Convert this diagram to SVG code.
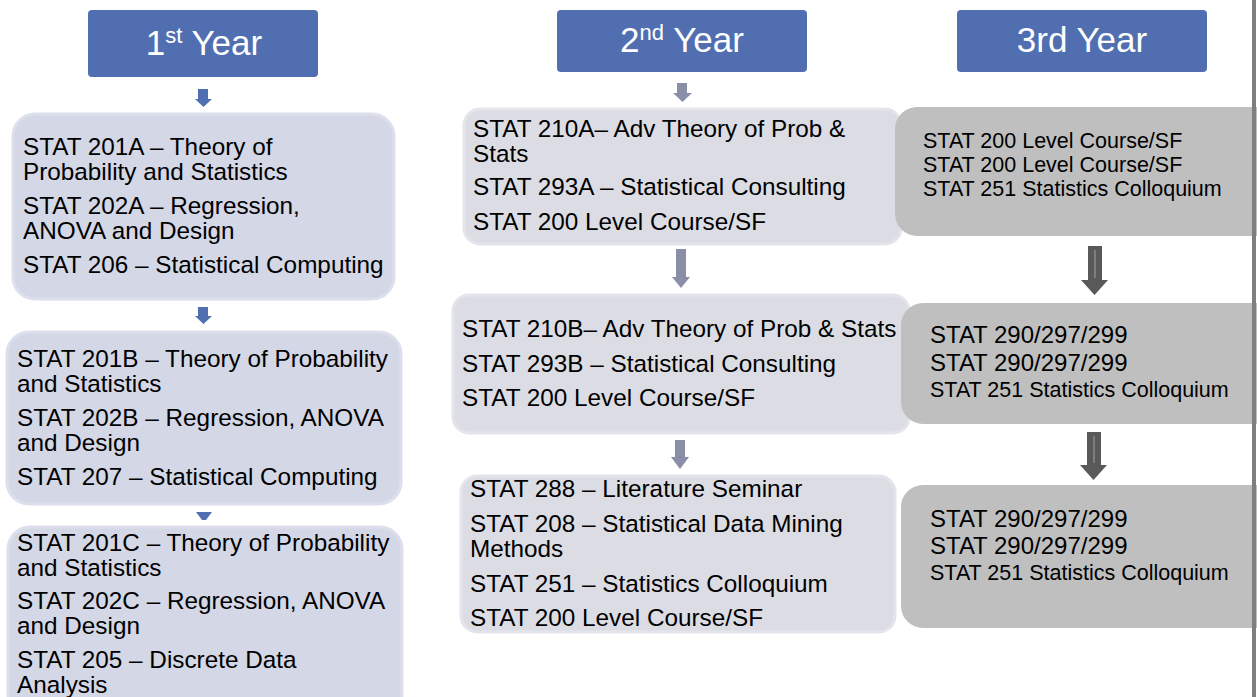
<svg xmlns="http://www.w3.org/2000/svg" width="1257" height="697" viewBox="0 0 1257 697">
<style>
text{font-family:"Liberation Sans",Arial,sans-serif;fill:#000}
.hdr{fill:#516fb0}
.ht{fill:#fff;font-size:35px;text-anchor:middle}
.b1{fill:#d4d7e6;stroke:#dde0ec;stroke-width:3}
.b2{fill:#dcdde4;stroke:#e4e5eb;stroke-width:3}
.b3{fill:#bfbfbf}
.t24{font-size:24.3px}
.t21{font-size:21.5px}
.t23{font-size:24px}
.a1{fill:#4f6fb0}
.a2{fill:#8a8ea7}
.a3{fill:#595959}
</style>
<g id="connectors">
<path class="a1" d="M198,89H208V99H212L203.5,107L195,99H198Z"/>
<path class="a1" d="M198,307H208V316H212L203.5,324L195,316H198Z"/>
<path class="a1" d="M196,512H212L206,520H202Z"/>
<path class="a2" d="M677,83H687V93H692L682.5,102L673,93H677Z"/>
<path class="a2" d="M676,249H686V277H690L681,288L672,277H676Z"/>
<path class="a2" d="M675,440H685V457H689L680,469L671,457H675Z"/>
<path class="a3" d="M1088,246H1102V280H1108L1094.5,295L1081,280H1088Z"/>
<line x1="1095" y1="250" x2="1095" y2="278" stroke="#8a8a8a" stroke-width="1.5"/>
<path class="a3" d="M1087,432H1101V465H1107L1093.5,480L1080,465H1087Z"/>
<line x1="1094" y1="436" x2="1094" y2="463" stroke="#8a8a8a" stroke-width="1.5"/>
</g>
<g id="h1">
<rect class="hdr" x="88" y="10" width="230" height="67" rx="4"/>
<text class="ht" x="204" y="55">1<tspan font-size="22" dy="-12">st</tspan><tspan dy="12"> Year</tspan></text>
</g>
<g id="h2">
<rect class="hdr" x="557" y="10" width="250" height="62" rx="4"/>
<text class="ht" x="682" y="52">2<tspan font-size="22" dy="-12">nd</tspan><tspan dy="12"> Year</tspan></text>
</g>
<g id="h3">
<rect class="hdr" x="957" y="10" width="250" height="62" rx="4"/>
<text class="ht" x="1082" y="52">3rd Year</text>
</g>
<g id="y1a">
<rect class="b1" x="13" y="114" width="381" height="185" rx="22"/>
<text class="t24" x="23" y="155">STAT 201A – Theory of</text>
<text class="t24" x="23" y="180">Probability and Statistics</text>
<text class="t24" x="23" y="214">STAT 202A – Regression,</text>
<text class="t24" x="23" y="239">ANOVA and Design</text>
<text class="t24" x="23" y="273">STAT 206 – Statistical Computing</text>
</g>
<g id="y1b">
<rect class="b1" x="7" y="332" width="394" height="172" rx="22"/>
<text class="t24" x="17" y="367">STAT 201B – Theory of Probability</text>
<text class="t24" x="17" y="392">and Statistics</text>
<text class="t24" x="17" y="426">STAT 202B – Regression, ANOVA</text>
<text class="t24" x="17" y="451">and Design</text>
<text class="t24" x="17" y="485">STAT 207 – Statistical Computing</text>
</g>
<g id="y1c">
<rect class="b1" x="8" y="527" width="394" height="190" rx="22"/>
<text class="t24" x="17" y="551">STAT 201C – Theory of Probability</text>
<text class="t24" x="17" y="576">and Statistics</text>
<text class="t24" x="17" y="609">STAT 202C – Regression, ANOVA</text>
<text class="t24" x="17" y="634">and Design</text>
<text class="t24" x="17" y="668">STAT 205 – Discrete Data</text>
<text class="t24" x="17" y="693">Analysis</text>
</g>
<g id="y2a">
<rect class="b2" x="464" y="109" width="437" height="135" rx="16"/>
<text class="t24" x="473" y="137">STAT 210A– Adv Theory of Prob &amp;</text>
<text class="t24" x="473" y="162">Stats</text>
<text class="t24" x="473" y="195">STAT 293A – Statistical Consulting</text>
<text class="t24" x="473" y="230">STAT 200 Level Course/SF</text>
</g>
<g id="y2b">
<rect class="b2" x="453" y="295" width="456" height="138" rx="16"/>
<text class="t24" x="462" y="337">STAT 210B– Adv Theory of Prob &amp; Stats</text>
<text class="t24" x="462" y="372">STAT 293B – Statistical Consulting</text>
<text class="t24" x="462" y="406">STAT 200 Level Course/SF</text>
</g>
<g id="y2c">
<rect class="b2" x="461" y="476" width="434" height="156" rx="16"/>
<text class="t24" x="470" y="497">STAT 288 – Literature Seminar</text>
<text class="t24" x="470" y="532">STAT 208 – Statistical Data Mining</text>
<text class="t24" x="470" y="557">Methods</text>
<text class="t24" x="470" y="592">STAT 251 – Statistics Colloquium</text>
<text class="t24" x="470" y="626">STAT 200 Level Course/SF</text>
</g>
<g id="y3a">
<rect class="b3" x="895" y="107" width="385" height="129" rx="22"/>
<text class="t21" x="923" y="148">STAT 200 Level Course/SF</text>
<text class="t21" x="923" y="172">STAT 200 Level Course/SF</text>
<text class="t21" x="923" y="196">STAT 251 Statistics Colloquium</text>
</g>
<g id="y3b">
<rect class="b3" x="901" y="303" width="385" height="121" rx="22"/>
<text class="t23" x="930" y="343">STAT 290/297/299</text>
<text class="t23" x="930" y="371">STAT 290/297/299</text>
<text class="t21" x="930" y="397">STAT 251 Statistics Colloquium</text>
</g>
<g id="y3c">
<rect class="b3" x="901" y="485" width="385" height="143" rx="22"/>
<text class="t23" x="930" y="527">STAT 290/297/299</text>
<text class="t23" x="930" y="554">STAT 290/297/299</text>
<text class="t21" x="930" y="580">STAT 251 Statistics Colloquium</text>
</g>
<line x1="1254" y1="0" x2="1254" y2="697" stroke="#7f7f7f" stroke-width="4"/>
</svg>
